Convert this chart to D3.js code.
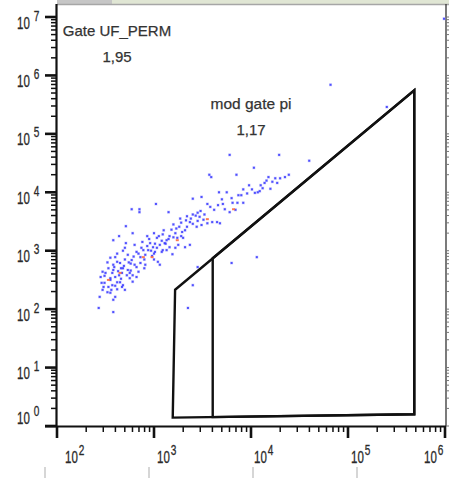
<!DOCTYPE html>
<html>
<head>
<meta charset="utf-8">
<script src="https://cdn.jsdelivr.net/npm/d3@7"></script>
<style>
  html, body { margin: 0; padding: 0; background: #fff; }
  svg { display: block; }
</style>
</head>
<body>
<svg id="chart" width="449" height="478"></svg>
<script>
// ---- data (log10 decades of intensity) ----
const cellLogX = [4.82,5.40,5.99,3.78,4.29,4.60,4.03,3.57,3.59,3.85,4.18,4.25,4.30,4.35,4.39,4.14,4.27,3.67,4.04,4.07,
  4.09,4.12,3.49,3.40,4.20,3.02,2.77,2.85,2.85,3.15,3.34,3.58,3.81,3.86,3.92,3.73,3.78,3.84,3.47,3.45,
  3.44,3.49,3.55,3.60,3.65,3.68,3.37,3.40,3.34,3.26,3.29,3.28,3.30,3.16,3.20,3.24,3.03,3.08,3.11,3.06,
  2.96,2.99,3.03,2.94,3.16,3.22,3.25,3.32,3.37,3.13,3.08,3.19,2.89,2.91,2.86,2.82,2.77,2.80,2.86,3.04,
  3.06,2.71,2.64,2.58,2.71,2.55,2.60,2.62,2.58,2.65,2.68,2.73,2.67,2.72,2.75,2.78,2.82,2.84,2.75,2.58,
  2.57,2.60,2.55,2.49,2.53,2.57,2.62,2.67,2.62,2.68,2.47,2.44,2.55,2.60,2.70,2.58,2.43,2.58,4.06,3.80,
  3.45,3.40,3.35,2.78,2.93,3.32,3.51,3.01,2.98,3.09,2.73,2.82,2.91,2.53,2.47,2.49,2.65,2.52,2.46,
  3.00,3.10,3.20,3.27,3.40,3.55,3.70,3.87,3.92,3.98,3.75,2.70,2.80,2.88,2.95,2.62,2.70,2.76,2.90,3.00,
  3.12,3.15,2.52,2.59,2.66,2.78,2.50,2.63,3.22,3.45,
  2.55,2.60,2.64,2.69,2.74,2.79,2.84,2.87,2.93,2.97,3.01,3.05,3.09,3.13,3.18,3.23,3.28,3.33,3.38,3.43,
  3.48,3.52,3.62,3.66,3.71,3.80,3.90,3.96,4.01,4.10,4.16,4.22,2.48,2.56,2.66,2.76,2.90,3.00,2.45,2.68];
const cellLogY = [5.84,5.46,6.97,4.64,4.64,4.54,4.42,4.30,4.26,4.30,4.26,4.24,4.24,4.26,4.30,4.16,4.16,4.00,3.99,4.00,
  4.02,4.07,3.92,3.89,4.06,3.80,3.71,3.71,3.66,3.66,3.59,3.75,3.82,3.82,3.82,3.71,3.66,3.70,3.58,3.51,
  3.41,3.44,3.47,3.49,3.49,3.47,3.49,3.46,3.41,3.41,3.32,3.25,3.22,3.25,3.23,3.22,3.22,3.17,3.13,3.10,
  3.13,3.06,3.05,3.01,3.06,3.05,3.10,3.06,3.10,3.01,2.98,2.94,3.01,2.93,2.89,2.98,2.84,2.76,2.79,2.81,
  2.76,3.42,3.25,3.18,3.13,2.88,2.89,2.81,2.76,2.79,2.70,2.67,2.62,2.58,2.62,2.58,2.55,2.64,2.53,2.67,
  2.62,2.55,2.53,2.45,2.38,2.41,2.46,2.38,2.34,2.41,2.33,2.21,2.28,2.21,2.33,2.16,2.02,1.95,2.89,2.79,
  2.72,2.41,2.02,3.30,3.25,3.35,3.53,2.98,2.91,3.01,2.93,2.72,2.76,2.70,2.64,2.57,2.46,2.29,2.45,
  3.30,3.35,3.45,3.55,3.62,3.80,3.88,3.95,4.05,4.12,4.00,3.05,3.10,3.15,3.20,2.95,2.85,2.78,2.85,2.95,
  3.12,3.20,2.80,2.72,2.52,2.47,2.62,2.65,3.30,3.65,
  2.50,2.40,2.58,2.74,2.80,2.90,2.95,3.05,3.08,3.00,3.12,3.25,3.28,3.18,3.36,3.38,3.48,3.52,3.55,3.60,
  3.68,3.62,3.70,3.78,3.80,3.90,3.95,3.98,4.05,4.12,4.20,4.18,2.38,2.33,2.70,2.66,2.70,2.85,2.55,3.00];
// high-density events (drawn in orange-red)
const denseLogX = [3.55,3.82,3.24,2.89,2.98,2.65,2.53];
const denseLogY = [3.54,3.71,3.18,2.89,2.89,2.62,2.50];

// gates (polygon vertices, intensity units)
const gateOuterX = [1650, 482000, 482000, 1560];
const gateOuterY = [215, 557000, 1.59, 1.39];
const gateInnerX = [4030, 482000, 482000, 4030];
const gateInnerY = [742, 557000, 1.59, 1.42];

const gateLabels = ["Gate UF_PERM", "mod gate pi"];
const gateValues = ["1,95", "1,17"];

const xDecades = [2, 3, 4, 5, 6];
const yDecades = [0, 1, 2, 3, 4, 5, 6, 7];
const lowerMarks = [2, 3, 4, 5];

// ---- drawing ----
const svg = d3.select("#chart");
const xS = d3.scaleLog().domain([1e2, 1e6]).range([57, 445]);
const yS = d3.scaleLog().domain([1, 1e7]).range([426, 17]);
const lowS = d3.scaleLinear().domain([2, 5]).range([45, 357]);

const AX = "#111";
const pLeft = xS.range()[0], pRight = 446, pTop = 4, pBottom = yS.range()[0];

// top bar
svg.append("rect").attr("x", pLeft).attr("y", 0).attr("width", 449 - pLeft).attr("height", 4)
  .attr("fill", "#e0e6d4");
svg.append("rect").attr("x", pLeft).attr("y", 0).attr("width", 55).attr("height", 4)
  .attr("fill", "#c6c6c6");
svg.append("line").attr("x1", pLeft).attr("x2", 449).attr("y1", 4.5).attr("y2", 4.5)
  .attr("stroke", "#a6a6a6").attr("stroke-width", 1.5);

// right frame
svg.append("line").attr("x1", pRight).attr("x2", pRight).attr("y1", pTop).attr("y2", pBottom)
  .attr("stroke", "#333").attr("stroke-width", 1.3);

// minor tick values
function minors(decs) {
  const out = [];
  decs.slice(0, -1).forEach(d => { for (let m = 2; m <= 9; m++) out.push(m * Math.pow(10, d)); });
  return out;
}
const yMinor = minors(yDecades), xMinor = minors(xDecades);

// right side small ticks
svg.selectAll(".rtick").data(yMinor.concat(yDecades.map(d => Math.pow(10, d)))).enter().append("line")
  .attr("x1", pRight).attr("x2", pRight + 3)
  .attr("y1", d => yS(d)).attr("y2", d => yS(d))
  .attr("stroke", "#777").attr("stroke-width", 1);

// lower light marks
svg.selectAll(".low").data(lowerMarks).enter().append("line")
  .attr("x1", d => lowS(d)).attr("x2", d => lowS(d)).attr("y1", 467).attr("y2", 478)
  .attr("stroke", "#c8c8c8").attr("stroke-width", 1.5);

// Y axis
svg.append("line").attr("x1", pLeft - 0.5).attr("x2", pLeft - 0.5).attr("y1", pTop).attr("y2", pBottom + 1)
  .attr("stroke", AX).attr("stroke-width", 2.2);
svg.selectAll(".ymin").data(yMinor).enter().append("line")
  .attr("x1", pLeft - 6).attr("x2", pLeft).attr("y1", d => yS(d)).attr("y2", d => yS(d))
  .attr("stroke", AX).attr("stroke-width", 1.5);
svg.selectAll(".ymaj").data(yDecades).enter().append("line")
  .attr("x1", pLeft - 12).attr("x2", pLeft).attr("y1", d => yS(Math.pow(10, d))).attr("y2", d => yS(Math.pow(10, d)))
  .attr("stroke", AX).attr("stroke-width", 2.6);

// X axis
svg.append("line").attr("x1", pLeft - 12).attr("x2", pRight).attr("y1", pBottom + 0.5).attr("y2", pBottom + 0.5)
  .attr("stroke", AX).attr("stroke-width", 2.2);
svg.selectAll(".xmin").data(xMinor).enter().append("line")
  .attr("x1", d => xS(d)).attr("x2", d => xS(d)).attr("y1", pBottom).attr("y2", pBottom + 6)
  .attr("stroke", AX).attr("stroke-width", 1.5);
svg.selectAll(".xmaj").data(xDecades).enter().append("line")
  .attr("x1", d => xS(Math.pow(10, d))).attr("x2", d => xS(Math.pow(10, d))).attr("y1", pBottom).attr("y2", pBottom + 12)
  .attr("stroke", AX).attr("stroke-width", 2.6);

// tick labels (condensed "10" + superscript)
const SX = 0.72;
function powLabel(x, y, exp, gap) {
  const g = svg.append("g").attr("transform", `translate(${x},${y}) scale(${SX},1)`);
  const t = g.append("text").attr("x", 0).attr("y", 0)
    .attr("font-family", "Liberation Sans, Arial, sans-serif").attr("font-size", 16)
    .attr("fill", "#2a2a2a").attr("stroke", "#2a2a2a").attr("stroke-width", 0.3);
  t.append("tspan").text("10");
  t.append("tspan").attr("dx", gap / SX).attr("dy", -8).attr("font-size", 14).text(exp);
}
xDecades.forEach(d => {
  const x = Math.max(Math.min(xS(Math.pow(10, d)) + 3, 424), 65);
  powLabel(x, 463, String(d), 1);
});
yDecades.forEach(d => {
  const y = Math.min(yS(Math.pow(10, d)) + 11.5, 424);
  powLabel(17, y, String(d), 4);
});

// events
const pts = cellLogX.map((v, i) => [Math.pow(10, v), Math.pow(10, cellLogY[i])]);
const ev = svg.append("g");
ev.selectAll(".halo").data(pts).enter().append("rect")
  .attr("x", d => xS(d[0]) - 1.5).attr("y", d => yS(d[1]) - 1.5)
  .attr("width", 3).attr("height", 3)
  .attr("fill", "#9a9aff").attr("opacity", 0.45);
ev.selectAll(".ev").data(pts).enter().append("rect")
  .attr("x", d => xS(d[0]) - 1).attr("y", d => yS(d[1]) - 1)
  .attr("width", 2).attr("height", 2)
  .attr("fill", "#3030ff").attr("opacity", 0.8);
const dpts = denseLogX.map((v, i) => [Math.pow(10, v), Math.pow(10, denseLogY[i])]);
ev.selectAll(".dev").data(dpts).enter().append("rect")
  .attr("x", d => xS(d[0]) - 1.5).attr("y", d => yS(d[1]) - 1)
  .attr("width", 3).attr("height", 2)
  .attr("fill", "#ff6a40").attr("opacity", 0.9);

// gates
const line = d3.line().x(d => xS(d[0])).y(d => yS(d[1]));
[[gateOuterX, gateOuterY], [gateInnerX, gateInnerY]].forEach(([gx, gy]) => {
  const verts = gx.map((v, i) => [v, gy[i]]);
  svg.append("path").attr("d", line(verts) + "Z")
    .attr("fill", "none").attr("stroke", "#111").attr("stroke-width", 2.4)
    .attr("stroke-linejoin", "miter");
});

// gate labels
const labelPos = [[117, 36, 62], [251, 109, 135]];
gateLabels.forEach((t, i) => {
  svg.append("text").attr("x", labelPos[i][0]).attr("y", labelPos[i][1])
    .attr("text-anchor", "middle").attr("font-family", "Liberation Sans, Arial, sans-serif")
    .attr("font-size", i === 0 ? 15 : 15.5).attr("fill", "#333")
    .attr("stroke", "#333").attr("stroke-width", 0.25).text(t);
  svg.append("text").attr("x", labelPos[i][0]).attr("y", labelPos[i][2])
    .attr("text-anchor", "middle").attr("font-family", "Liberation Sans, Arial, sans-serif")
    .attr("font-size", 15).attr("fill", "#333")
    .attr("stroke", "#333").attr("stroke-width", 0.25).text(gateValues[i]);
});
</script>
</body>
</html>
